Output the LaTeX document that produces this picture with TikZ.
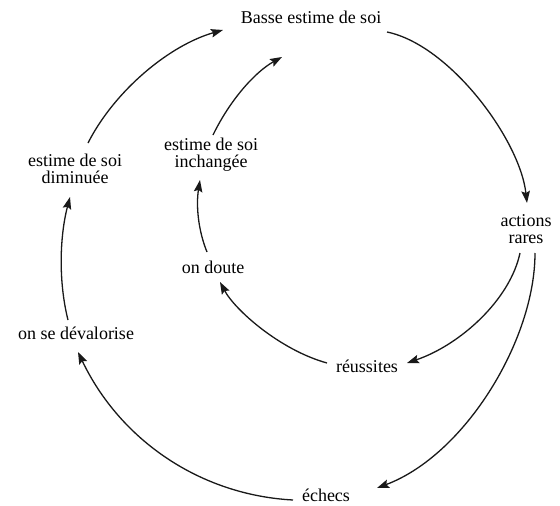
\documentclass[tikz,border=0pt]{standalone}
\usepackage{fontspec}
\setmainfont{Liberation Serif}
\usetikzlibrary{arrows.meta}
\begin{document}
\begin{tikzpicture}[x=1pt,y=-1pt,
  lbl/.style={font=\fontsize{18}{17}\selectfont, align=center, inner sep=0pt, text=black},
  arr/.style={line width=1.3pt, draw=black!90, -{Stealth[length=12pt,width=8.5pt,inset=2pt]}}]
\useasboundingbox[fill=white] (0,0) rectangle (560,506);
\node[lbl] (basse) at (311,17) {Basse estime de soi};
\node[lbl] (actions) at (526,229) {actions\\rares};
\node[lbl] (reussites) at (367,366) {réussites};
\node[lbl] (echecs) at (326,495) {échecs};
\node[lbl] (deval) at (76,333) {on se dévalorise};
\node[lbl] (dimin) at (75,169) {estime de soi\\diminuée};
\node[lbl] (doute) at (213,267) {on doute};
\node[lbl] (inch) at (211,155) {estime de soi\\inchangée};
% outer loop
\draw[arr] ([shift={(76,15)}]basse.center) .. controls (450,45) and (520,140) .. ([shift={(1,-26)}]actions.center);
\draw[arr] ([shift={(9,24)}]actions.center) .. controls (535,340) and (465,455) .. ([shift={(51,-7)}]echecs.center);
\draw[arr] ([shift={(-33,5)}]echecs.center) .. controls (200,495) and (120,440) .. ([shift={(2,19)}]deval.center);
\draw[arr] ([shift={(-8,-13)}]deval.center) .. controls (58,280) and (60,235) .. ([shift={(-5,28)}]dimin.center);
\draw[arr] ([shift={(13,-26)}]dimin.center) .. controls (115,90) and (170,45) .. ([shift={(-88,13)}]basse.center);
% inner loop
\draw[arr] ([shift={(-6,24)}]actions.center) .. controls (510,300) and (460,345) .. ([shift={(40,-3)}]reussites.center);
\draw[arr] ([shift={(-40,-3)}]reussites.center) .. controls (280,350) and (235,310) .. ([shift={(7,15)}]doute.center);
\draw[arr] ([shift={(-6,-15)}]doute.center) .. controls (198,230) and (196,205) .. ([shift={(-11,25)}]inch.center);
\draw[arr] ([shift={(2,-20)}]inch.center) .. controls (230,100) and (255,72) .. ([shift={(-29,40)}]basse.center);
\end{tikzpicture}
\end{document}
